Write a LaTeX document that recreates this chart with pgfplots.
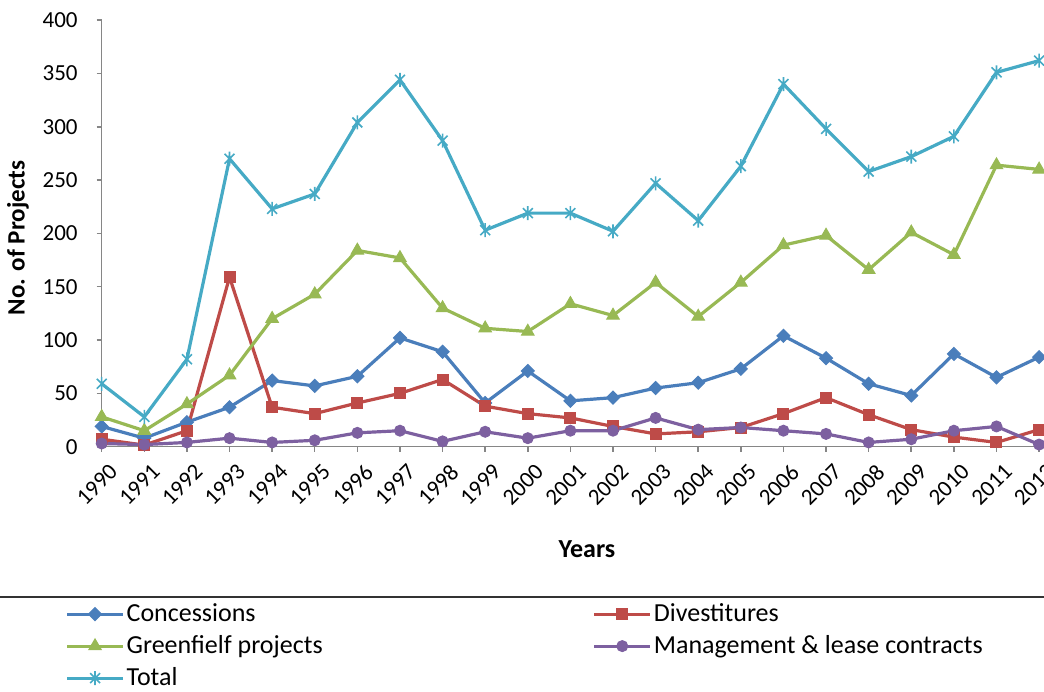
\documentclass[border=0pt]{standalone}
\usepackage{fontspec}
\setmainfont{Carlito}
\usepackage{pgfplots}
\pgfplotsset{compat=1.18}
\definecolor{cBlue}{HTML}{4A7EBB}
\definecolor{cRed}{HTML}{BE4B48}
\definecolor{cGreen}{HTML}{98B954}
\definecolor{cPurple}{HTML}{7D60A0}
\definecolor{cCyan}{HTML}{46AAC5}
\definecolor{axgray}{HTML}{868686}
\pgfdeclareplotmark{xstar}{%
  \pgfpathmoveto{\pgfqpoint{0pt}{\pgfplotmarksize}}%
  \pgfpathlineto{\pgfqpoint{0pt}{-\pgfplotmarksize}}%
  \pgfpathmoveto{\pgfqpoint{-.7071\pgfplotmarksize}{-.7071\pgfplotmarksize}}%
  \pgfpathlineto{\pgfqpoint{.7071\pgfplotmarksize}{.7071\pgfplotmarksize}}%
  \pgfpathmoveto{\pgfqpoint{-.7071\pgfplotmarksize}{.7071\pgfplotmarksize}}%
  \pgfpathlineto{\pgfqpoint{.7071\pgfplotmarksize}{-.7071\pgfplotmarksize}}%
  \pgfusepathqstroke}
\begin{document}
\begin{tikzpicture}
\useasboundingbox (-50.85pt,-122.15pt) rectangle (471.15pt,223.35pt);
\begin{axis}[
  scale only axis, width=468.7pt, height=213.3pt,
  xmin=1990, xmax=2012, ymin=0, ymax=400,
  axis x line*=bottom, axis y line*=left,
  axis line style={-, draw=axgray, line width=0.75pt},
  xtick={1990,...,2012}, ytick={0,50,...,400},
  tick align=outside, major tick length=2.5pt,
  tick style={draw=axgray, line width=0.75pt},
  /pgf/number format/assume math mode=true,
  /pgf/number format/1000 sep={},
  xticklabel style={rotate=45, anchor=north east, inner sep=1pt, xshift=-0.5pt, yshift=-5pt, font=\fontsize{11.5}{13}\selectfont},
  yticklabel shift=6pt,
  yticklabel style={anchor=east, font=\fontsize{11.5}{13}\selectfont},
  clip=false,
  xlabel={Years}, ylabel={No. of Projects},
  xlabel style={at={(axis description cs:0.5177,-0.2398)}, anchor=center, font=\fontsize{13}{15}\selectfont\bfseries},
  ylabel style={at={(axis description cs:-0.0893,0.4892)}, anchor=center, font=\fontsize{12.5}{15}\selectfont\bfseries},
  legend columns=2,
  legend cell align=left,
  legend image code/.code={\draw[mark repeat=2,mark phase=2,#1] plot coordinates {(0pt,0pt) (14pt,0pt) (28pt,0pt)};},
  legend style={draw=none, fill=none, at={(axis description cs:-0.0455,-0.3446)}, anchor=north west,
    font=\fontsize{13}{15}\selectfont,
    nodes={inner sep=0pt, minimum height=16pt},
    /tikz/every odd column/.append style={column sep=1pt},
    /tikz/every even column/.append style={column sep=135pt}},
]
\addplot[color=cBlue, line width=1.6pt, mark=square*, mark size=2.3pt, mark options={rotate=45, line width=0.5pt, fill=cBlue}] coordinates {
(1990,19) (1991,8) (1992,23) (1993,37) (1994,62) (1995,57) (1996,66) (1997,102) (1998,89) (1999,41) (2000,71) (2001,43) (2002,46) (2003,55) (2004,60) (2005,73) (2006,104) (2007,83) (2008,59) (2009,48) (2010,87) (2011,65) (2012,84)};
\addlegendentry{Concessions}
\addplot[color=cRed, line width=1.6pt, mark=square*, mark size=2.75pt, mark options={line width=0.5pt, fill=cRed}] coordinates {
(1990,7) (1991,1.5) (1992,15) (1993,159) (1994,37) (1995,31) (1996,41) (1997,50) (1998,63) (1999,38) (2000,31) (2001,27) (2002,19) (2003,12) (2004,14) (2005,18) (2006,31) (2007,46) (2008,30) (2009,16) (2010,9) (2011,4) (2012,16)};
\addlegendentry{Divestitures}
\addplot[color=cGreen, line width=1.6pt, mark=triangle*, mark size=3.6pt, mark options={line width=0.5pt, fill=cGreen}] coordinates {
(1990,28) (1991,15) (1992,40) (1993,67) (1994,120) (1995,143) (1996,184) (1997,177) (1998,130) (1999,111) (2000,108) (2001,134) (2002,123) (2003,154) (2004,122) (2005,154) (2006,189) (2007,198) (2008,166) (2009,201) (2010,180) (2011,264) (2012,260)};
\addlegendentry{Greenfielf projects}
\addplot[color=cPurple, line width=1.6pt, mark=*, mark size=2.75pt, mark options={line width=0.5pt, fill=cPurple}] coordinates {
(1990,3) (1991,2) (1992,4) (1993,8) (1994,4) (1995,6) (1996,13) (1997,15) (1998,5) (1999,14) (2000,8) (2001,15) (2002,15) (2003,27) (2004,16) (2005,18) (2006,15) (2007,12) (2008,4) (2009,7) (2010,15) (2011,19) (2012,2)};
\addlegendentry{Management \& lease contracts}
\addplot[color=cCyan, line width=1.6pt, mark=xstar, mark size=3.5pt, mark options={line width=0.8pt}] coordinates {
(1990,59) (1991,28) (1992,82) (1993,270) (1994,223) (1995,237) (1996,304) (1997,344) (1998,287) (1999,203) (2000,219) (2001,219) (2002,202) (2003,247) (2004,212) (2005,263) (2006,340) (2007,298) (2008,258) (2009,272) (2010,291) (2011,351) (2012,362)};
\addlegendentry{Total}
\end{axis}
\draw[black!80, line width=1pt] (-50.85pt,-75.3pt) -- (471.15pt,-75.3pt);
\end{tikzpicture}
\end{document}
